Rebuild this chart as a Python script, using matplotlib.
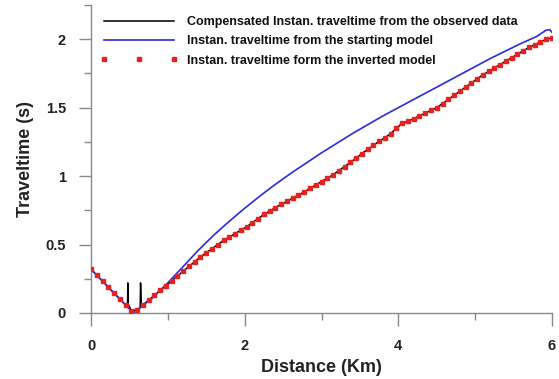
import numpy as np
import matplotlib
matplotlib.use("Agg")
import matplotlib.pyplot as plt
from matplotlib.ticker import MultipleLocator

plt.rcParams['font.family'] = ['Liberation Sans', 'DejaVu Sans']
plt.rcParams['font.weight'] = 'bold'

# Inverted model (red markers), sampled every 0.075 km
red_x = np.arange(81) * 0.075
red_y = [0.32, 0.276, 0.233, 0.189, 0.145, 0.102, 0.058, 0.015, 0.024, 0.059,
         0.094, 0.129, 0.165, 0.20, 0.235, 0.27, 0.305, 0.34, 0.375, 0.41,
         0.44, 0.47, 0.50, 0.53, 0.555, 0.58, 0.605, 0.63, 0.66, 0.69,
         0.72, 0.745, 0.77, 0.795, 0.815, 0.84, 0.86, 0.885, 0.91, 0.935,
         0.96, 0.985, 1.01, 1.04, 1.07, 1.10, 1.13, 1.165, 1.195, 1.225,
         1.255, 1.28, 1.31, 1.35, 1.385, 1.40, 1.42, 1.44, 1.46, 1.48,
         1.50, 1.53, 1.56, 1.59, 1.62, 1.65, 1.68, 1.71, 1.74, 1.765,
         1.79, 1.815, 1.84, 1.865, 1.89, 1.915, 1.94, 1.96, 1.98, 2.0,
         2.01]

# Starting model (blue line)
blue_x = [0, 0.55, 0.8, 1.0, 1.2, 1.4, 1.6, 1.8, 2.0, 2.2, 2.4, 2.6, 2.8,
          3.0, 3.2, 3.4, 3.6, 3.8, 4.0, 4.2, 4.4, 4.6, 4.8, 5.0, 5.2, 5.4,
          5.6, 5.8, 5.92, 5.97, 6.0]
blue_y = [0.32, 0.0, 0.11, 0.22, 0.34, 0.46, 0.57, 0.67, 0.765, 0.855, 0.94,
          1.02, 1.095, 1.17, 1.24, 1.31, 1.375, 1.44, 1.50, 1.56, 1.62, 1.68,
          1.74, 1.80, 1.86, 1.915, 1.97, 2.02, 2.065, 2.07, 2.05]

# Observed data (black line): follows inverted model, with two spikes near the minimum
spike_x = [0.475, 0.48, 0.485, 0.64, 0.645, 0.655]
spike_y = [0.068, 0.22, 0.065, 0.04, 0.22, 0.05]

black_x = np.concatenate([red_x, spike_x])
black_y = np.concatenate([red_y, spike_y])
order = np.argsort(black_x, kind='stable')
black_x = black_x[order]
black_y = black_y[order]

fig = plt.figure(figsize=(5.59, 3.79), dpi=100)
ax = fig.add_axes([91/559, 1-313/379, (552-91)/559, (313-5)/379])

ax.plot(black_x, black_y, color='black', lw=1.1,
        label='Compensated Instan. traveltime from the observed data', zorder=2)
ax.plot(blue_x, blue_y, color='#2a2ae0', lw=1.2,
        label='Instan. traveltime from the starting model', zorder=3)
ax.plot(red_x, red_y, ls='none', marker='s', ms=2.5, color='#e42222', mec='#e42222',
        label='Instan. traveltime form the inverted model', zorder=4)

ax.set_xlim(0, 6)
ax.set_ylim(0, 2.25)
ax.xaxis.set_minor_locator(MultipleLocator(1))
ax.yaxis.set_minor_locator(MultipleLocator(0.25))
ax.set_xticks([0, 2, 4, 6])
ax.set_xticklabels(['0', '2', '4', '6'])
ax.set_yticks([0, 0.5, 1, 1.5, 2])
ax.set_yticklabels(['0', '0.5', '1', '1.5', '2'])

for s in ['top', 'right']:
    ax.spines[s].set_visible(False)
for s in ['left', 'bottom']:
    ax.spines[s].set_color('#888888')
    ax.spines[s].set_linewidth(1.0)

ax.tick_params(which='major', direction='out', length=9, width=1.0, color='#888888',
               labelsize=10.5, labelcolor='#222222')
ax.tick_params(which='minor', direction='out', length=5, width=1.0, color='#888888')
ax.tick_params(axis='x', which='major', pad=10)
ax.tick_params(axis='y', which='major', pad=9)

ax.set_xlabel('Distance (Km)', fontsize=13, fontweight='bold', color='#222222', labelpad=4)
ax.set_ylabel('Traveltime (s)', fontsize=13, fontweight='bold', color='#222222', labelpad=8)

leg = ax.legend(loc='upper left', bbox_to_anchor=(0.009, 0.98), frameon=False,
                fontsize=9, handlelength=6.2, handletextpad=0.72, numpoints=3,
                labelspacing=0.58, borderaxespad=0.0)
for t in leg.get_texts():
    t.set_fontweight('bold')
    t.set_color('#111111')

fig.savefig('out.png', dpi=100)
